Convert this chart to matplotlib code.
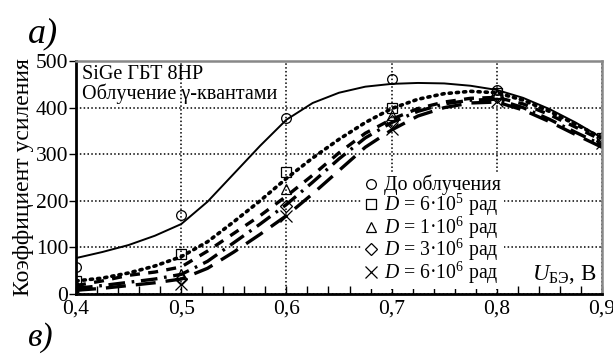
import numpy as np
import matplotlib
matplotlib.use("Agg")
import matplotlib.pyplot as plt
from matplotlib.ticker import MultipleLocator, FuncFormatter
from matplotlib.lines import Line2D

plt.rcParams['font.family'] = ['Liberation Serif', 'DejaVu Serif']
plt.rcParams['mathtext.fontset'] = 'custom'
plt.rcParams['mathtext.rm'] = 'Liberation Serif'
plt.rcParams['mathtext.it'] = 'Liberation Serif:italic'

# измерения (точки)
u_pts = [0.4, 0.5, 0.6, 0.7, 0.8, 0.9]
k_before = [57, 170, 378, 462, 438, 335]
k_d1 = [28, 85, 262, 400, 432, 335]
k_d2 = [20, 42, 225, 385, 430, 332]
k_d3 = [14, 33, 188, 372, 422, 328]
k_d4 = [8, 22, 168, 355, 415, 325]

# аппроксимирующие кривые
u_fit = [0.4, 0.425, 0.45, 0.475, 0.5, 0.525, 0.55, 0.575, 0.6, 0.625, 0.65,
         0.675, 0.7, 0.725, 0.75, 0.775, 0.8, 0.825, 0.85, 0.875, 0.9]
f_before = [77, 90, 105, 125, 150, 198, 258, 318, 374, 410, 432, 445, 451, 453,
            452, 447, 438, 421, 397, 368, 335]
f_d1 = [28, 34, 45, 60, 80, 112, 155, 200, 248, 292, 332, 368, 398, 418, 430,
        435, 432, 416, 392, 364, 335]
f_d2 = [18, 28, 40, 47, 58, 92, 130, 168, 210, 255, 303, 345, 375, 398, 412,
        420, 422, 408, 385, 358, 330]
f_d3 = [12, 18, 25, 32, 42, 70, 110, 150, 192, 240, 290, 335, 368, 392, 408,
        416, 418, 400, 375, 347, 320]
f_d4 = [8, 12, 18, 24, 32, 55, 90, 128, 168, 215, 265, 315, 352, 382, 400,
        410, 412, 395, 370, 342, 315]

labels = ['До облучения',
          r'$\mathit{D}$ = 6·10$^5$ рад',
          r'$\mathit{D}$ = 1·10$^6$ рад',
          r'$\mathit{D}$ = 3·10$^6$ рад',
          r'$\mathit{D}$ = 6·10$^6$ рад']
markers = ['o', 's', '^', 'D', 'x']
msizes = [7, 7, 7, 6, 8]

fig = plt.figure(figsize=(6.13, 3.55), dpi=100)
ax = fig.add_axes([0.124, 0.172, 0.858, 0.656])

ax.plot(u_fit, f_before, color='black', lw=1.4, ls='-')
ax.plot(u_fit, f_d1, color='black', lw=2.6, ls=(0, (0.6, 1.4)), dash_capstyle='round')
ax.plot(u_fit, f_d2, color='black', lw=2.4, ls=(0, (3, 2.5)))
ax.plot(u_fit, f_d3, color='black', lw=2.4, ls=(0, (5, 2, 0.8, 2)))
ax.plot(u_fit, f_d4, color='black', lw=2.4, ls=(0, (6, 3)))

for ys, m, ms in zip([k_before, k_d1, k_d2, k_d3, k_d4], markers, msizes):
    ax.plot(u_pts, ys, ls='none', marker=m, ms=ms, mfc='none', mec='black',
            mew=0.9, color='black')

ax.set_xlim(0.4, 0.9)
ax.set_ylim(0, 500)
ax.xaxis.set_major_locator(MultipleLocator(0.1))
ax.xaxis.set_minor_locator(MultipleLocator(0.02))
ax.yaxis.set_major_locator(MultipleLocator(100))
ax.xaxis.set_major_formatter(FuncFormatter(lambda v, p: f'{v:.1f}'.replace('.', ',')))
ax.tick_params(axis='x', which='both', direction='in', length=6, width=1.0,
               labelsize=15.5, pad=4)
ax.tick_params(axis='y', which='major', direction='out', length=5, width=1.0,
               labelsize=15.5, pad=0.5)
ax.grid(True, color='black', lw=1.1, ls=(0, (1, 1.5)))

for side in ['left', 'bottom']:
    ax.spines[side].set_linewidth(2.0)
for side in ['top', 'right']:
    ax.spines[side].set_color('#888888')
    ax.spines[side].set_linewidth(1.8)

ax.set_ylabel('Коэффициент усиления', fontsize=17, labelpad=1)

ax.text(0.012, 0.985, 'SiGe ГБТ 8HP\nОблучение γ-квантами', transform=ax.transAxes,
        ha='left', va='top', fontsize=14.5, linespacing=1.0)
ax.text(0.99, 0.035, r'$U_{\rm БЭ}$, В', transform=ax.transAxes,
        ha='right', va='bottom', fontsize=16.5)

handles = [Line2D([], [], ls='none', marker=m, ms=ms, mfc='none', mec='black', mew=0.9)
           for m, ms in zip(markers, msizes)]
leg = ax.legend(handles, labels, loc='lower left', bbox_to_anchor=(0.535, 0.0),
                fontsize=14.2, frameon=True, framealpha=1, edgecolor='none',
                handlelength=0.6, handletextpad=0.35, labelspacing=-0.18,
                borderpad=0.15, borderaxespad=0.25, fancybox=False)

fig.text(0.045, 0.905, 'а)', fontsize=26, style='italic', ha='left', va='center')
fig.text(0.045, 0.05, 'в)', fontsize=24, style='italic', ha='left', va='center')

fig.savefig('out.png', dpi=100)
